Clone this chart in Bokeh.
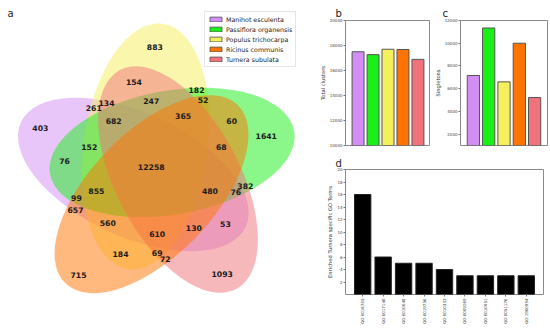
import math
from bokeh.plotting import figure
from bokeh.layouts import row, column
from bokeh.models import (Range1d, FactorRange, Label, Legend, LegendItem,
                          ColumnDataSource)
from bokeh.core.properties import value
from bokeh.embed import file_html
from bokeh.resources import INLINE

FONT = "DejaVu Sans"

# ---------------- data ----------------
species = ["Manihot esculenta", "Passiflora organensis", "Populus trichocarpa",
           "Ricinus communis", "Turnera subulata"]
species_colors = ["#d38ef5", "#18f018", "#f5ef5c", "#ff7400", "#f0727a"]

total_clusters = [17500, 17270, 17700, 17680, 16890]
singletons = [7160, 11340, 6600, 10000, 5220]

go_terms = ["GO:0016705", "GO:0017148", "GO:0010048", "GO:0019756", "GO:0010333",
            "GO:0009269", "GO:0010951", "GO:0051176", "GO:1900994"]
go_counts = [16, 6, 5, 5, 4, 3, 3, 3, 3]

venn_counts = [883, 154, 182, 52, 261, 134, 247, 682, 365, 60, 403, 1641, 152, 68,
               76, 12258, 382, 480, 76, 855, 99, 657, 560, 53, 130, 610, 184, 69,
               72, 715, 1093]

# ---------------- venn layout (unit square, like pyvenn) ----------------
venn_label_u = [0.500, 0.430, 0.640, 0.662, 0.295, 0.338, 0.488, 0.362, 0.595, 0.758,
                0.116, 0.874, 0.280, 0.723, 0.197, 0.488, 0.804, 0.685, 0.772, 0.304,
                0.237, 0.234, 0.342, 0.737, 0.631, 0.508, 0.385, 0.508, 0.535, 0.244,
                0.726]
venn_label_v = [0.876, 0.759, 0.731, 0.700, 0.672, 0.690, 0.696, 0.628, 0.644, 0.630,
                0.606, 0.578, 0.540, 0.540, 0.494, 0.473, 0.411, 0.395, 0.389, 0.392,
                0.370, 0.329, 0.286, 0.282, 0.270, 0.249, 0.182, 0.186, 0.167, 0.112,
                0.115]
# ellipse drawing order -> species index, centre, angle
ell_species = [0, 2, 1, 4, 3]
ell_cx = [0.428, 0.469, 0.558, 0.578, 0.489]
ell_cy = [0.449, 0.543, 0.523, 0.432, 0.383]
ell_angle = [155.0, 82.0, 10.0, 118.0, 46.0]
ELL_W, ELL_H = 0.832, 0.416

# ---------------- panel a: venn ----------------
VW, VH = 316, 332
S, X0, Y0 = 298.0, 5.3, 307.8  # px per unit and origin (page px)
xr = Range1d((0 - X0) / S, (VW - X0) / S)
yr = Range1d((Y0 - VH) / S, Y0 / S)
pv = figure(width=VW, height=VH, x_range=xr, y_range=yr, min_border=0,
            x_axis_type=None, y_axis_type=None, output_backend="svg",
            toolbar_location=None)
pv.grid.visible = False
pv.outline_line_color = None

esrc = ColumnDataSource(dict(x=ell_cx, y=ell_cy, a=ell_angle,
                             c=[species_colors[i] for i in ell_species]))
pv.ellipse(x="x", y="y", width=ELL_W, height=ELL_H, angle="a", angle_units="deg",
           fill_color="c", fill_alpha=0.5, line_color=None, source=esrc)

tsrc = ColumnDataSource(dict(x=venn_label_u, y=venn_label_v,
                             t=[str(v) for v in venn_counts]))
pv.text(x="x", y="y", text="t", source=tsrc, text_font=value(FONT),
        text_font_style="bold", text_font_size="7.7px", text_color="#1a1a1a",
        text_align="center", text_baseline="middle")

# legend swatches: hidden renderers (one per species), shown only in the legend
items = []
for k, (name, col) in enumerate(zip(species, species_colors)):
    j = ell_species.index(k)
    r = pv.rect(x=[ell_cx[j]], y=[ell_cy[j]], width=0.01, height=0.01,
                fill_color=col, line_color="#505050", line_width=0.8)
    r.visible = False
    items.append(LegendItem(label=name, renderers=[r]))
leg = Legend(items=items, location=(204, 265), label_text_font=FONT,
             label_text_font_size="6.3px", label_text_color="#222222",
             glyph_width=15, glyph_height=6, label_height=8, label_standoff=3,
             spacing=2, padding=3, margin=0, border_line_color="#cccccc",
             border_line_width=0.8, background_fill_alpha=0.85,
             inactive_fill_alpha=0.0, click_policy="none")
pv.add_layout(leg)
pv.add_layout(Label(x=10, y=319, x_units="screen", y_units="screen", text="a",
                    text_font=FONT, text_font_size="10px", text_align="center",
                    text_baseline="middle", text_color="#222222"))


def style_bar_fig(p, ylabel, letter, letter_offset, letter_standoff):
    p.grid.visible = False
    p.outline_line_color = "#8a8a8a"
    p.outline_line_width = 1
    p.yaxis.axis_line_color = None
    p.yaxis.major_tick_line_color = "#777777"
    p.yaxis.major_tick_out = 2
    p.yaxis.major_tick_in = 0
    p.yaxis.minor_tick_line_color = None
    p.yaxis.major_label_text_font = FONT
    p.yaxis.major_label_text_font_size = "4px"
    p.yaxis.major_label_text_color = "#444444"
    p.yaxis.major_label_standoff = 1
    p.yaxis.axis_label = ylabel
    p.yaxis.axis_label_text_font = FONT
    p.yaxis.axis_label_text_font_size = "5.2px"
    p.yaxis.axis_label_text_font_style = "normal"
    p.yaxis.axis_label_text_color = "#333333"
    p.yaxis.axis_label_standoff = 1
    # panel letter as the plot title
    p.title.text = letter
    p.title.align = "left"
    p.title.offset = letter_offset
    p.title.standoff = letter_standoff
    p.title.text_font = FONT
    p.title.text_font_size = "10px"
    p.title.text_font_style = "normal"
    p.title.text_color = "#222222"


# ---------------- panel b ----------------
pb = figure(width=114, height=150,
            x_range=FactorRange(factors=species, range_padding=0.136),
            y_range=Range1d(10000, 20000), output_backend="svg",
            toolbar_location=None, min_border_left=29, min_border_right=0,
            min_border_top=20, min_border_bottom=5)
pb.vbar(x=species, top=total_clusters, width=0.8, fill_color=species_colors,
        line_color="#555555", line_width=1)
style_bar_fig(pb, "Total clusters", "b", -10, 4)
pb.yaxis.ticker = [10000, 12000, 14000, 16000, 18000, 20000]
pb.xaxis.visible = False

# ---------------- panel c ----------------
pc = figure(width=120, height=150,
            x_range=FactorRange(factors=species, range_padding=0.136),
            y_range=Range1d(1000, 12000), output_backend="svg",
            toolbar_location=None, min_border_left=30, min_border_right=3,
            min_border_top=20, min_border_bottom=5)
pc.vbar(x=species, top=singletons, width=0.8, fill_color=species_colors,
        line_color="#555555", line_width=1)
style_bar_fig(pc, "Singletons", "c", -18, 4)
pc.yaxis.ticker = [2000, 4000, 6000, 8000, 10000, 12000]
pc.xaxis.visible = False

# ---------------- panel d ----------------
pd_ = figure(width=234, height=182,
             x_range=FactorRange(factors=go_terms, range_padding=0.0756),
             y_range=Range1d(0, 20), output_backend="svg",
             toolbar_location=None, min_border_left=29, min_border_right=7,
             min_border_top=19, min_border_bottom=38)
pd_.vbar(x=go_terms, top=go_counts, width=0.8, fill_color="black",
         line_color="#222222", line_width=1)
style_bar_fig(pd_, "Enriched Turnera specific GO Terms", "d", -10, 2)
pd_.yaxis.ticker = [2, 4, 6, 8, 10, 12, 14, 16, 18, 20]
pd_.xaxis.axis_line_color = None
pd_.xaxis.major_tick_line_color = "#777777"
pd_.xaxis.major_tick_out = 2
pd_.xaxis.major_tick_in = 0
pd_.xaxis.major_label_orientation = math.pi / 2
pd_.xaxis.major_label_text_font = FONT
pd_.xaxis.major_label_text_font_size = "4px"
pd_.xaxis.major_label_text_color = "#444444"
pd_.xaxis.major_label_standoff = 2

layout = row(pv, column(row(pb, pc), pd_))
open("out.html", "w").write(file_html(layout, INLINE))
